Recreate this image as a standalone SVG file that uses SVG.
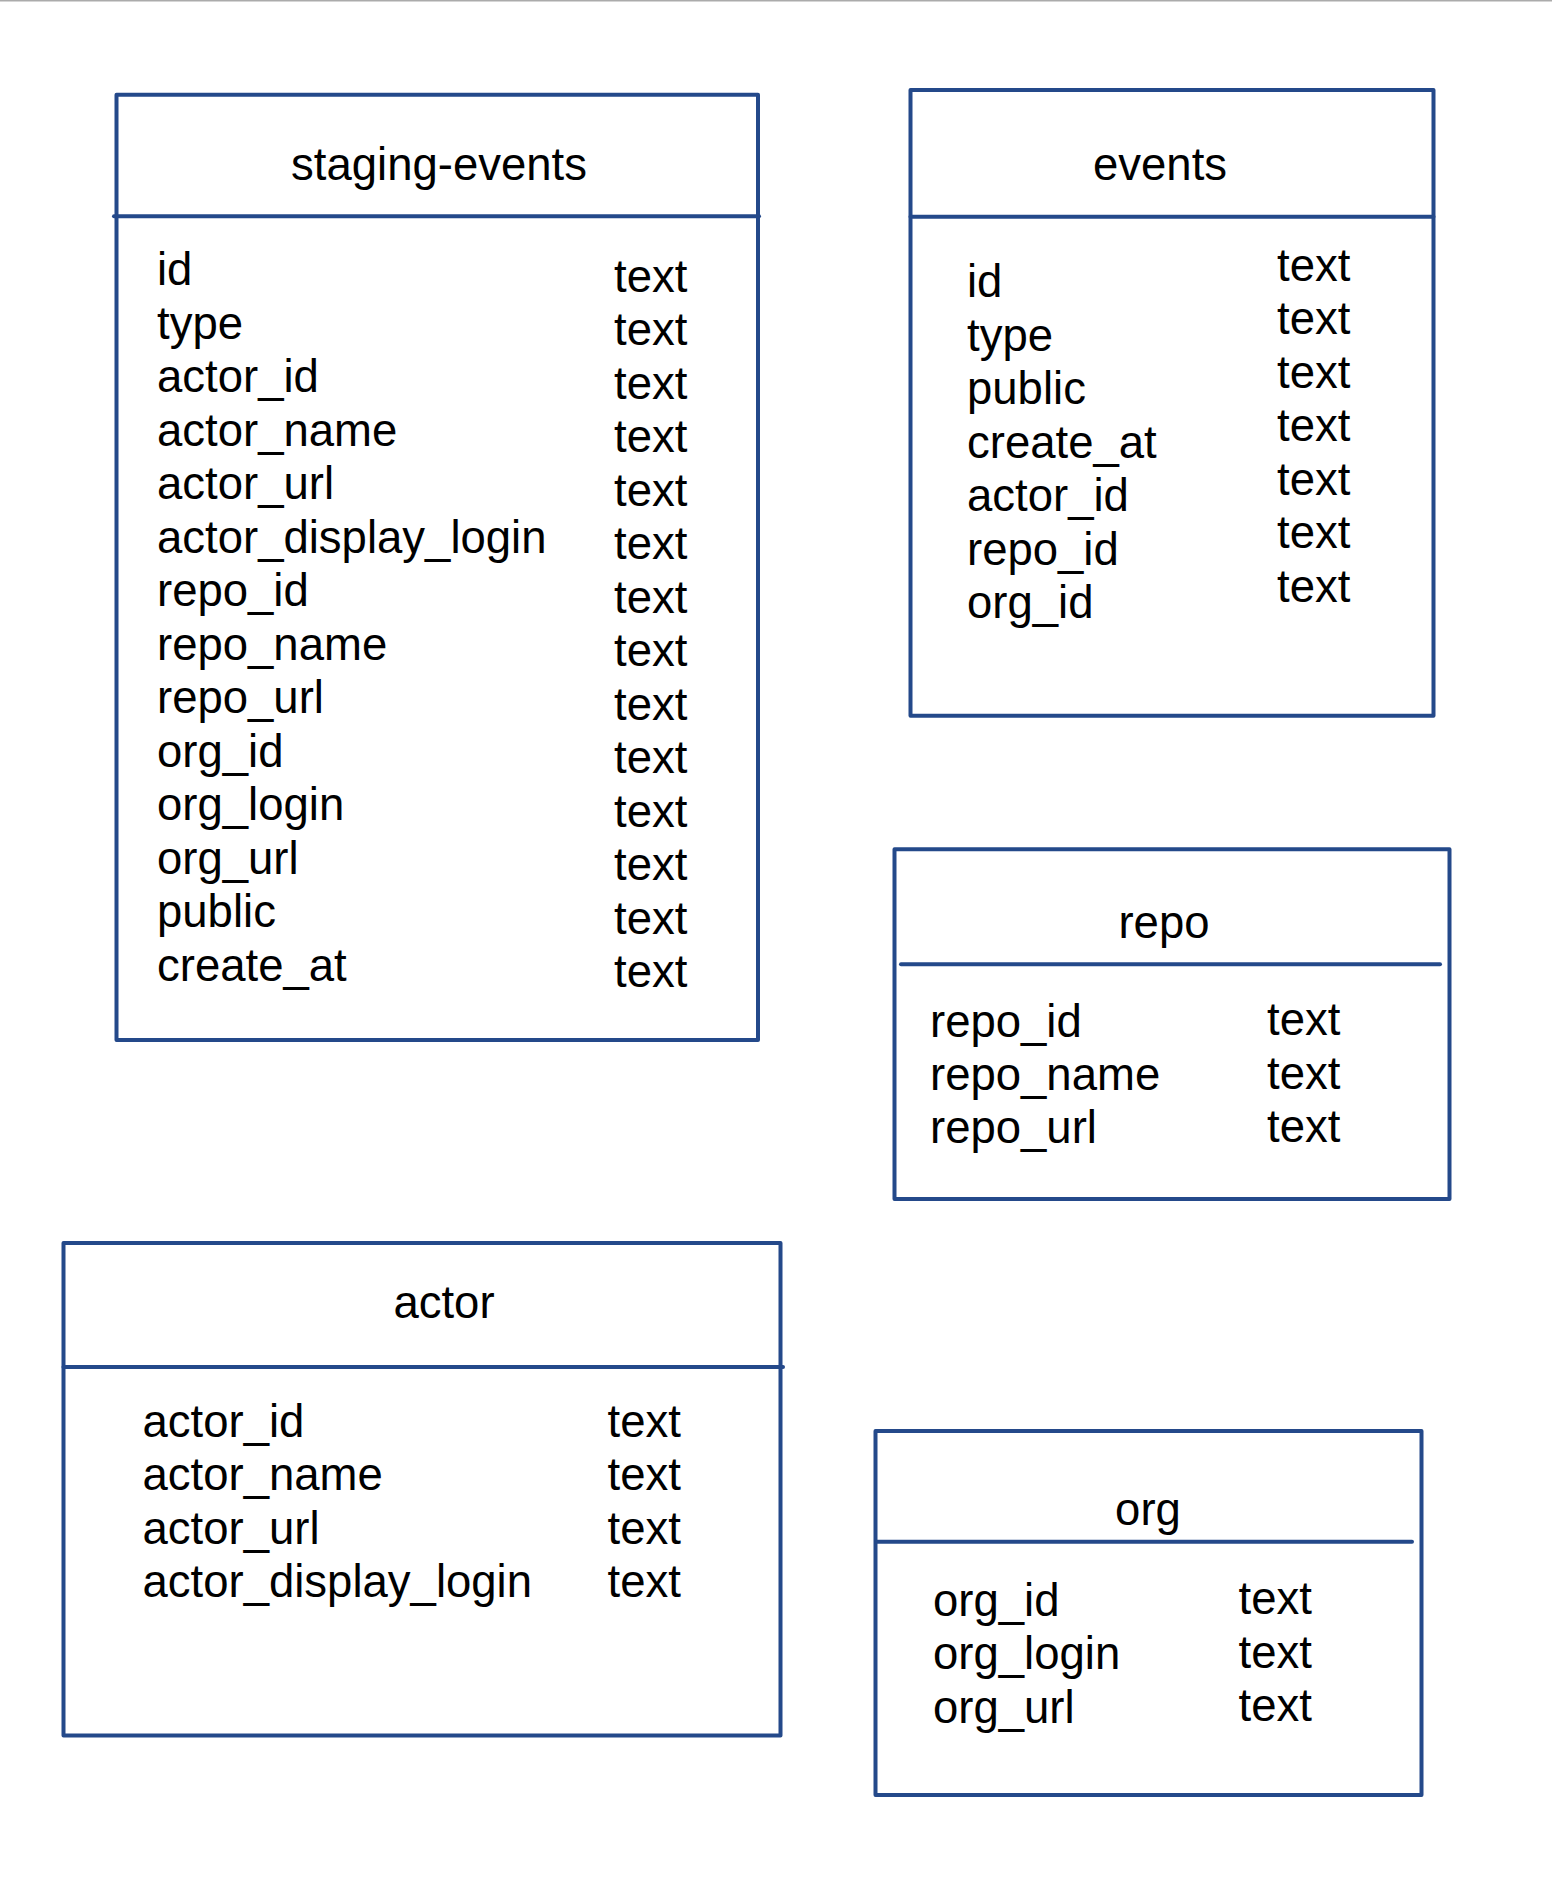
<svg xmlns="http://www.w3.org/2000/svg" width="1552" height="1890" viewBox="0 0 1552 1890">
  <style>
    .box { fill: none; stroke: #24498a; stroke-width: 4; stroke-linejoin: round; stroke-linecap: round; }
    .rule { stroke: #24498a; stroke-width: 4; stroke-linecap: round; }
    text { font-family: "Liberation Sans", Arial, Helvetica, sans-serif; font-size: 45.5px; fill: #000; }
    .title { text-anchor: middle; }
  </style>
  <rect x="0" y="0" width="1552" height="1890" fill="#fff"/>
  <rect x="0" y="0" width="1552" height="1.5" fill="#ababab"/>

  <!-- staging table -->
  <g id="staging-events">
    <rect class="box" x="116.5" y="94.7" width="641.5" height="945.3"/>
    <line class="rule" x1="114" y1="216.3" x2="759" y2="216.3"/>
    <text class="title" x="439" y="180">staging-events</text>
    <g>
      <text x="157" y="285">id</text>
      <text x="157" y="338.5">type</text>
      <text x="157" y="392">actor_id</text>
      <text x="157" y="445.5">actor_name</text>
      <text x="157" y="499">actor_url</text>
      <text x="157" y="552.5">actor_display_login</text>
      <text x="157" y="606">repo_id</text>
      <text x="157" y="659.5">repo_name</text>
      <text x="157" y="713">repo_url</text>
      <text x="157" y="766.5">org_id</text>
      <text x="157" y="820">org_login</text>
      <text x="157" y="873.5">org_url</text>
      <text x="157" y="927">public</text>
      <text x="157" y="980.5">create_at</text>
    </g>
    <g>
      <text x="614" y="291.5">text</text>
      <text x="614" y="345">text</text>
      <text x="614" y="398.5">text</text>
      <text x="614" y="452">text</text>
      <text x="614" y="505.5">text</text>
      <text x="614" y="559">text</text>
      <text x="614" y="612.5">text</text>
      <text x="614" y="666">text</text>
      <text x="614" y="719.5">text</text>
      <text x="614" y="773">text</text>
      <text x="614" y="826.5">text</text>
      <text x="614" y="880">text</text>
      <text x="614" y="933.5">text</text>
      <text x="614" y="987">text</text>
    </g>
  </g>

  <!-- events table -->
  <g id="events">
    <rect class="box" x="910.5" y="90" width="523" height="625.7"/>
    <line class="rule" x1="910.5" y1="216.7" x2="1433.5" y2="216.7"/>
    <text class="title" x="1160" y="180">events</text>
    <g>
      <text x="967" y="297.3">id</text>
      <text x="967" y="350.8">type</text>
      <text x="967" y="404.3">public</text>
      <text x="967" y="457.8">create_at</text>
      <text x="967" y="511.3">actor_id</text>
      <text x="967" y="564.8">repo_id</text>
      <text x="967" y="618.3">org_id</text>
    </g>
    <g>
      <text x="1277" y="280.7">text</text>
      <text x="1277" y="334.2">text</text>
      <text x="1277" y="387.7">text</text>
      <text x="1277" y="441.2">text</text>
      <text x="1277" y="494.7">text</text>
      <text x="1277" y="548.2">text</text>
      <text x="1277" y="601.7">text</text>
    </g>
  </g>

  <!-- repo table -->
  <g id="repo">
    <rect class="box" x="894.5" y="849.3" width="555" height="349.7"/>
    <line class="rule" x1="901" y1="964.3" x2="1440" y2="964.3"/>
    <text class="title" x="1164" y="938.3">repo</text>
    <text x="930" y="1036.7">repo_id</text>
    <text x="930" y="1090">repo_name</text>
    <text x="930" y="1143">repo_url</text>
    <text x="1267" y="1035">text</text>
    <text x="1267" y="1088.5">text</text>
    <text x="1267" y="1142">text</text>
  </g>

  <!-- actor table -->
  <g id="actor">
    <rect class="box" x="63.5" y="1243" width="717" height="492.5"/>
    <line class="rule" x1="63.5" y1="1367" x2="783" y2="1367"/>
    <text class="title" x="444" y="1318">actor</text>
    <text x="142.5" y="1437">actor_id</text>
    <text x="142.5" y="1490.4">actor_name</text>
    <text x="142.5" y="1543.8">actor_url</text>
    <text x="142.5" y="1597.2">actor_display_login</text>
    <text x="607.5" y="1437">text</text>
    <text x="607.5" y="1490.4">text</text>
    <text x="607.5" y="1543.8">text</text>
    <text x="607.5" y="1597.2">text</text>
  </g>

  <!-- org table -->
  <g id="org">
    <rect class="box" x="875.5" y="1431" width="546" height="364"/>
    <line class="rule" x1="877" y1="1541.7" x2="1412" y2="1541.7"/>
    <text class="title" x="1148" y="1525">org</text>
    <text x="933" y="1616">org_id</text>
    <text x="933" y="1669.4">org_login</text>
    <text x="933" y="1722.8">org_url</text>
    <text x="1238.5" y="1614.3">text</text>
    <text x="1238.5" y="1667.7">text</text>
    <text x="1238.5" y="1721">text</text>
  </g>

  <!-- no relationship lines are drawn between the tables -->
  <g id="connectors"/>
</svg>
